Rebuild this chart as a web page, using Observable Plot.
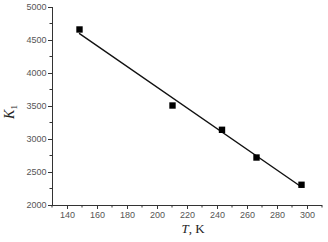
<!DOCTYPE html>
<html><head><meta charset="utf-8">
<script src="https://cdn.jsdelivr.net/npm/d3@7"></script>
<script src="https://cdn.jsdelivr.net/npm/@observablehq/plot@0.6"></script>
<style>body{margin:0;background:#fff}</style>
</head><body><div id="chart"></div>
<script>
// measured points
const temps = [148, 210, 243, 266, 296];
const kValues = [4667, 3515, 3147, 2727, 2314];
// fitted line endpoints
const lineT = [148, 296];
const lineK = [4605, 2280];
// ticks
const xTicks = [140, 160, 180, 200, 220, 240, 260, 280, 300];
const xMinor = [130, 150, 170, 190, 210, 230, 250, 270, 290, 310];
const yTicks = [2000, 2500, 3000, 3500, 4000, 4500, 5000];
const yMinor = [2250, 2750, 3250, 3750, 4250, 4750];

const pts = temps.map((t, i) => ({t, k: kValues[i]}));
const fit = lineT.map((t, i) => ({t, k: lineK[i]}));

const chart = Plot.plot({
  width: 328, height: 242,
  marginLeft: 52, marginRight: 6, marginTop: 7, marginBottom: 37,
  style: {background: "#fff", color: "#333", fontFamily: "Liberation Sans, Arial, sans-serif", fontSize: "9px"},
  x: {type: "linear", domain: [130, 310]},
  y: {type: "linear", domain: [2000, 5000]},
  marks: [
    Plot.axisX(xTicks, {tickSize: 4, tickPadding: 2, label: null, tickFormat: "d", fill: "#555", stroke: "#333"}),
    Plot.axisY(yTicks, {tickSize: 4, tickPadding: 2, label: null, tickFormat: "d", fill: "#555", stroke: "#333"}),
    Plot.ruleX([130], {stroke: "#333"}),
    Plot.ruleY([2000], {stroke: "#333"}),
    Plot.line(fit, {x: "t", y: "k", stroke: "#111", strokeWidth: 1.4}),
    Plot.dot(pts, {x: "t", y: "k", symbol: "square", r: 3.6, fill: "#000", stroke: "none"})
  ]
});
document.getElementById("chart").append(chart);

// minor ticks drawn outward using Plot's scales
const svg = d3.select(chart);
const sx = chart.scale("x"), sy = chart.scale("y");
const g = svg.append("g").attr("stroke", "#333");
xMinor.forEach(v => {
  const px = sx.apply(v), py = sy.apply(2000);
  g.append("line").attr("x1", px).attr("x2", px).attr("y1", py).attr("y2", py + 2.5);
});
yMinor.forEach(v => {
  const px = sx.apply(130), py = sy.apply(v);
  g.append("line").attr("x1", px - 2.5).attr("x2", px).attr("y1", py).attr("y2", py);
});

// axis titles
const xl = svg.append("text")
  .attr("x", 193).attr("y", 233).attr("text-anchor", "middle")
  .attr("font-family", "Liberation Serif, Times New Roman, serif").attr("font-size", 13).attr("fill", "#222");
xl.append("tspan").attr("font-style", "italic").text("T");
xl.append("tspan").text(", K");

const yl = svg.append("text")
  .attr("transform", "translate(14,112) rotate(-90)").attr("text-anchor", "middle")
  .attr("font-family", "Liberation Serif, Times New Roman, serif").attr("font-size", 14).attr("fill", "#222");
yl.append("tspan").attr("font-style", "italic").text("K");
yl.append("tspan").attr("font-size", 9).attr("dy", 3).text("1");
</script>
</body></html>
